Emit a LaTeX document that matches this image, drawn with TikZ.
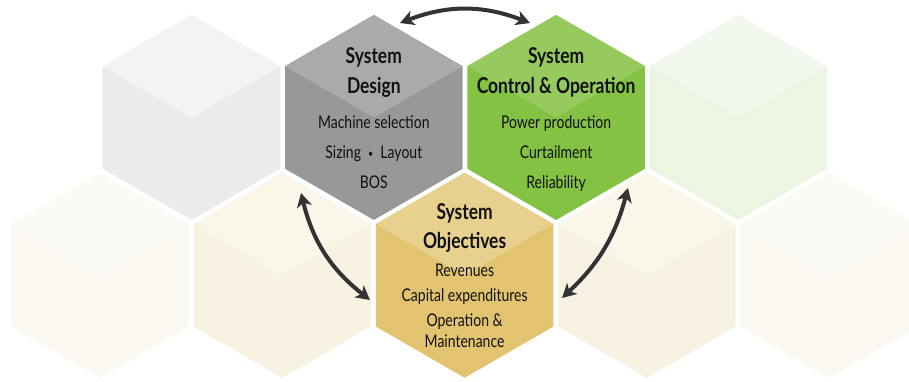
\documentclass[tikz,border=0pt]{standalone}
\usepackage{fontspec}
\setmainfont{Lato}[FakeStretch=0.8]
\usetikzlibrary{arrows.meta}
\definecolor{dsgLow}{HTML}{989898}
\definecolor{dsgTop}{HTML}{AAAAAA}
\definecolor{ctlLow}{HTML}{84C244}
\definecolor{ctlTop}{HTML}{96CA5E}
\definecolor{objLow}{HTML}{E2C470}
\definecolor{objTop}{HTML}{E8D18E}
\definecolor{fgLow}{HTML}{EBEBEB}
\definecolor{fgTop}{HTML}{F3F3F3}
\definecolor{fnLow}{HTML}{EBF5E2}
\definecolor{fnTop}{HTML}{F3F8EE}
\definecolor{fyLow}{HTML}{F8F2E2}
\definecolor{fyTop}{HTML}{FAF6EA}
\definecolor{fwLow}{HTML}{FAF8F0}
\definecolor{fwTop}{HTML}{FCFAF5}
\definecolor{arrowgray}{HTML}{333333}
\definecolor{txt}{HTML}{111111}
\newcommand\hexcell[4]{%
  \fill[#3] (#1,#2-102.5) -- (#1+88.77,#2-51.25) -- (#1+88.77,#2+51.25) -- (#1,#2+102.5) -- (#1-88.77,#2+51.25) -- (#1-88.77,#2-51.25) -- cycle;
  \fill[#4] (#1,#2-102.5) -- (#1+88.77,#2-51.25) -- (#1,#2) -- (#1-88.77,#2-51.25) -- cycle;
}
\newcommand\smallbul{\raisebox{1.2pt}{\fontsize{11}{11}\selectfont•}}
\tikzset{
  title/.style={anchor=base, inner sep=0pt, text=txt, font=\fontsize{21.8}{24}\selectfont\bfseries},
  body/.style={anchor=base, inner sep=0pt, text=txt, font=\fontsize{17.5}{20}\selectfont},
  link/.style={draw=arrowgray, line width=4pt, {Stealth[length=14pt,width=15pt,inset=4pt]}-{Stealth[length=14pt,width=15pt,inset=4pt]}}
}
\begin{document}
\begin{tikzpicture}[x=1pt,y=-1pt]
\useasboundingbox (0,0) rectangle (909,382);
\clip (0,0) rectangle (909,382);
% top row
\hexcell{191.5}{117.5}{fgLow}{fgTop}
\hexcell{373.8}{117.5}{dsgLow}{dsgTop}
\hexcell{556.1}{117.5}{ctlLow}{ctlTop}
\hexcell{738.4}{117.5}{fnLow}{fnTop}
% bottom row
\hexcell{100}{275.3}{fwLow}{fwTop}
\hexcell{282.3}{275.3}{fyLow}{fyTop}
\hexcell{464.6}{275.3}{objLow}{objTop}
\hexcell{646.9}{275.3}{fyLow}{fyTop}
\hexcell{829.2}{275.3}{fwLow}{fwTop}
% texts
\node[title] (d1) at (373.8,64) {System};
\node[title] (d2) at (373.8,94) {Design};
\node[body] (d3) at (373.8,128.5) {Machine selection};
\node[body] (d4) at (373.8,158.5) {Sizing~~\smallbul~~Layout};
\node[body] (d5) at (373.8,188.5) {BOS};
\node[title] (c1) at (556.1,64) {System};
\node[title] (c2) at (556.1,94) {Control \& Operation};
\node[body] (c3) at (556.1,128.5) {Power production};
\node[body] (c4) at (556.1,158.5) {Curtailment};
\node[body] (c5) at (556.1,188.5) {Reliability};
\node[title] (o1) at (464.6,219.3) {System};
\node[title] (o2) at (464.6,248.3) {Objectives};
\node[body] (o3) at (464.6,276.7) {Revenues};
\node[body] (o4) at (464.6,301.7) {Capital expenditures};
\node[body] (o5) at (464.6,326.7) {Operation \&};
\node[body] (o6) at (464.6,347.7) {Maintenance};
% arrows
\coordinate (dT) at (400,23);
\coordinate (cT) at (530,23);
\coordinate (dB) at (301,193);
\coordinate (oL) at (370,300);
\coordinate (cB) at (628,188);
\coordinate (oR) at (562,298);
\draw[link] (dT) to[bend left=21] (cT);
\draw[link] (dB) to[bend right=19] (oL);
\draw[link] (cB) to[bend left=16] (oR);
\end{tikzpicture}
\end{document}
